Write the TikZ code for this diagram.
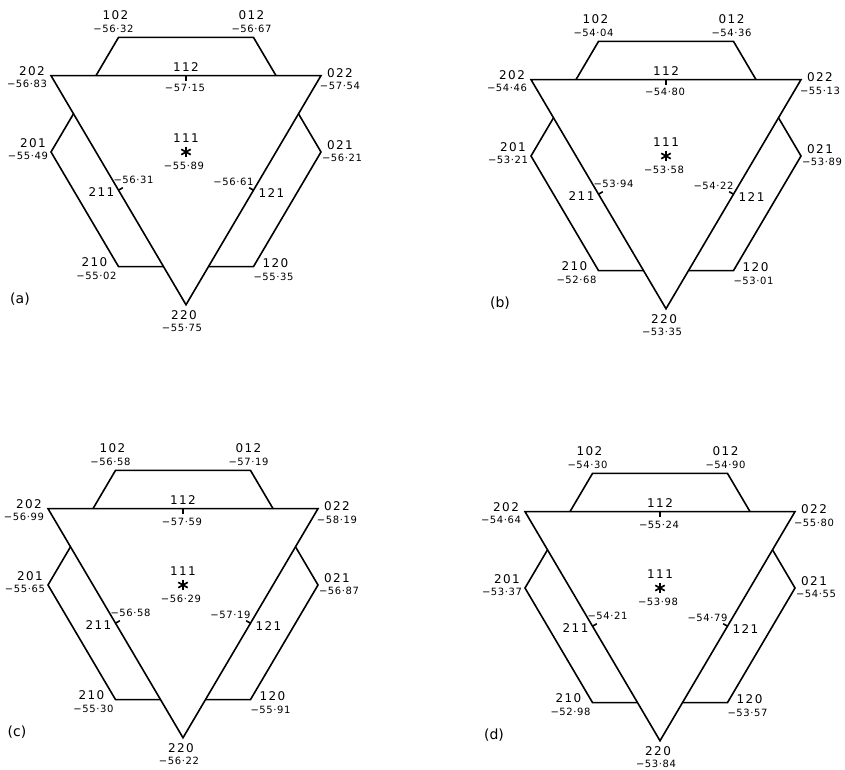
\documentclass[tikz,border=0pt]{standalone}
\usepackage{fontspec}
\setmainfont{DejaVu Sans}
\newfontfamily\idxfam[LetterSpace=12]{DejaVu Sans}
\newfontfamily\valfam[LetterSpace=6]{DejaVu Sans}
\usetikzlibrary{calc}

\tikzset{
  edge/.style={line width=1.6pt},
  idx/.style={font=\idxfam\fontsize{12}{12}\selectfont, inner sep=0pt},
  val/.style={font=\valfam\fontsize{10}{10}\selectfont, inner sep=0pt},
  panel/.style={font=\fontsize{14}{14}\selectfont, inner sep=0pt}
}

% one triangle panel: #1 centre, #2 letter, #3 values as index/value
\newcommand{\trigrid}[3]{%
  \begin{scope}[shift={#1}, yscale=0.98]
    % points
    \coordinate (#2111) at (0,0);
    \coordinate (#2202) at (150:155.88);
    \coordinate (#2022) at (30:155.88);
    \coordinate (#2220) at (-90:155.88);
    \coordinate (#2112) at (90:77.94);
    \coordinate (#2211) at (-150:77.94);
    \coordinate (#2121) at (-30:77.94);
    \coordinate (#2102) at (120:135);
    \coordinate (#2012) at (60:135);
    \coordinate (#2021) at (0:135);
    \coordinate (#2120) at (-60:135);
    \coordinate (#2210) at (-120:135);
    \coordinate (#2201) at (180:135);
    % where the outer lines meet the triangle
    \coordinate (#2tl) at ($(#2202)!1/6!(#2022)$);
    \coordinate (#2tr) at ($(#2022)!1/6!(#2202)$);
    \coordinate (#2lu) at ($(#2202)!1/6!(#2220)$);
    \coordinate (#2ll) at ($(#2202)!5/6!(#2220)$);
    \coordinate (#2ru) at ($(#2022)!1/6!(#2220)$);
    \coordinate (#2rl) at ($(#2022)!5/6!(#2220)$);

    % edges
    \draw[edge] (#2202) -- (#2022) -- (#2220) -- cycle;
    \draw[edge] (#2tl) -- (#2102) -- (#2012) -- (#2tr);
    \draw[edge] (#2lu) -- (#2201) -- (#2210) -- (#2ll);
    \draw[edge] (#2ru) -- (#2021) -- (#2120) -- (#2rl);
    \draw[edge] (#2112) -- ++(-90:5);
    \draw[edge] (#2211) -- ++(30:5);
    \draw[edge] (#2121) -- ++(150:5);
    \foreach \a in {30,90,150}
      \draw[line width=1.7pt] (#2111) +(\a:5.5) -- +(\a+180:5.5);

    % labels
    \foreach \i/\dx/\dy in {102/-3/23, 012/-2/23, 202/-19/5, 022/19/3,
        112/0/9, 201/-18/9, 021/19/7, 111/0/14, 211/-17/-2, 121/18/-3,
        210/-24/4.5, 120/22/4, 220/-2/-11}
      \node[idx] (#2i\i) at ([shift={(\dx,\dy)}]#2\i) {\i};
    \foreach \i/\dx/\dy in {102/-5/9, 012/-2/9, 202/-24/-8, 022/19/-11,
        112/-1/-13, 201/-23/-4, 021/21/-6, 111/-2/-14, 211/15/11, 121/-20/9,
        210/-22/-9, 120/20/-10, 220/-4/-24}
      \coordinate (#2w\i) at ([shift={(\dx,\dy)}]#2\i);
    \foreach \i/\v in {#3}
      \node[val] (#2v\i) at (#2w\i) {\v};
    \node[panel] (#2lab) at ([shift={(-166,-150)}]#2111) {(#2)};
  \end{scope}
}

\begin{document}
\begin{tikzpicture}[x=1pt, y=1pt]
  \useasboundingbox (0,0) rectangle (845,769);

  \trigrid{(186,617)}{a}{102/−56·32, 012/−56·67, 202/−56·83, 112/−57·15,
    022/−57·54, 201/−55·49, 111/−55·89, 021/−56·21, 211/−56·31,
    121/−56·61, 210/−55·02, 120/−55·35, 220/−55·75}
  \trigrid{(666,613)}{b}{102/−54·04, 012/−54·36, 202/−54·46, 112/−54·80,
    022/−55·13, 201/−53·21, 111/−53·58, 021/−53·89, 211/−53·94,
    121/−54·22, 210/−52·68, 120/−53·01, 220/−53·35}
  \trigrid{(183,184)}{c}{102/−56·58, 012/−57·19, 202/−56·99, 112/−57·59,
    022/−58·19, 201/−55·65, 111/−56·29, 021/−56·87, 211/−56·58,
    121/−57·19, 210/−55·30, 120/−55·91, 220/−56·22}
  \trigrid{(660,181)}{d}{102/−54·30, 012/−54·90, 202/−54·64, 112/−55·24,
    022/−55·80, 201/−53·37, 111/−53·98, 021/−54·55, 211/−54·21,
    121/−54·79, 210/−52·98, 120/−53·57, 220/−53·84}
\end{tikzpicture}
\end{document}
